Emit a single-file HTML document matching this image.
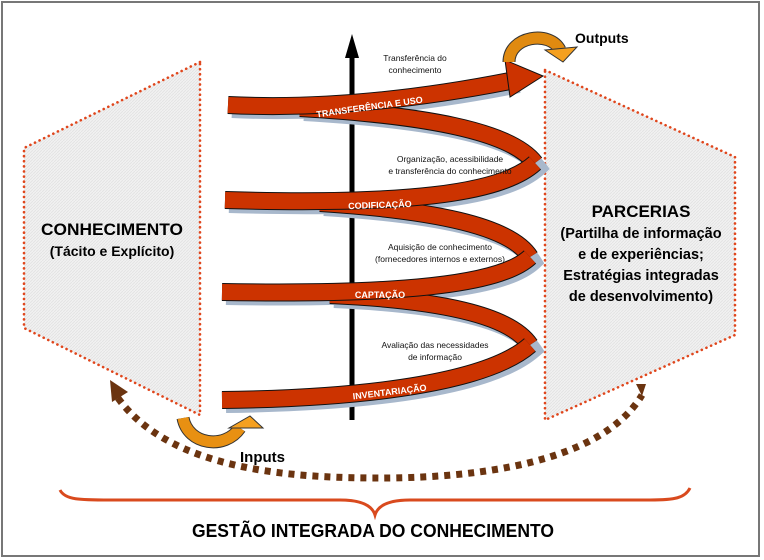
<!DOCTYPE html>
<html><head><meta charset="utf-8"><style>
html,body{margin:0;padding:0;background:#fff;}
svg{display:block;font-family:"Liberation Sans",Arial,sans-serif;}
</style></head><body>
<svg width="764" height="560" viewBox="0 0 764 560" xmlns="http://www.w3.org/2000/svg">
<defs>
<pattern id="h" width="3" height="3" patternUnits="userSpaceOnUse"><rect width="3" height="3" fill="#f1f1f1"/><path d="M0,3 L3,0" stroke="#e2e2e2" stroke-width="0.8"/></pattern>
</defs>
<rect x="2" y="2" width="757" height="554" fill="#fff" stroke="#777" stroke-width="2"/>
<polygon points="200,62 24,148 24,328 200,415" fill="url(#h)" stroke="#e0461c" stroke-width="2.6" stroke-dasharray="0.1 5" stroke-linecap="round"/>
<polygon points="545,70 735,157 735,335 545,420" fill="url(#h)" stroke="#e0461c" stroke-width="2.6" stroke-dasharray="0.1 5" stroke-linecap="round"/>
<text x="112" y="235" font-size="17" font-weight="bold" text-anchor="middle" textLength="142" lengthAdjust="spacingAndGlyphs">CONHECIMENTO</text>
<text x="112" y="256" font-size="14" font-weight="bold" text-anchor="middle">(Tácito e Explícito)</text>
<g font-weight="bold" text-anchor="middle">
<text x="641" y="217" font-size="17">PARCERIAS</text>
<text x="641" y="238" font-size="14.5">(Partilha de informação</text>
<text x="641" y="259" font-size="14.5">e de experiências;</text>
<text x="641" y="280" font-size="14.5">Estratégias integradas</text>
<text x="641" y="301" font-size="14.5">de desenvolvimento)</text>
</g>
<line x1="352" y1="55" x2="352" y2="420" stroke="#000" stroke-width="5"/>
<polygon points="352,34 345,58 359,58" fill="#000"/>
<g fill="none" stroke="#a8b8cc" stroke-width="16" transform="translate(4,5)">
<path d="M228,105 C330,110 430,97 515,80"/>
<path d="M300,108 C420,115 510,130 535,163 C500,195 400,205 225,200"/>
<path d="M320,203 C430,210 510,225 530,257 C500,285 400,295 222,292"/>
<path d="M330,295 C440,300 510,315 530,345 C490,380 380,398 222,400"/>
</g>
<g fill="none" stroke-linejoin="round">
<g stroke="#111" stroke-width="18">
<path d="M300,108 C420,115 510,130 535,163"/>
<path d="M320,203 C430,210 510,225 530,257"/>
<path d="M330,295 C440,300 510,315 530,345"/>
</g>
<g stroke="#cc3300" stroke-width="16">
<path d="M300,108 C420,115 510,130 535,163"/>
<path d="M320,203 C430,210 510,225 530,257"/>
<path d="M330,295 C440,300 510,315 530,345"/>
</g>
<g stroke="#111" stroke-width="18">
<path d="M228,105 C330,110 430,97 515,80"/>
<path d="M535,163 C500,195 400,205 225,200"/>
<path d="M530,257 C500,285 400,295 222,292"/>
<path d="M530,345 C490,380 380,398 222,400"/>
</g>
<g stroke="#cc3300" stroke-width="16">
<path d="M228,105 C330,110 430,97 515,80"/>
<path d="M535,163 C500,195 400,205 225,200"/>
<path d="M530,257 C500,285 400,295 222,292"/>
<path d="M530,345 C490,380 380,398 222,400"/>
</g>
</g>
<polygon points="505,60 543,76 510,97" fill="#cc3300" stroke="#111" stroke-width="1"/>
<g fill="#fff" font-size="9" font-weight="bold" text-anchor="middle">
<text x="370" y="110" transform="rotate(-8 370 110)">TRANSFERÊNCIA E USO</text>
<text x="380" y="208" transform="rotate(-2 380 208)">CODIFICAÇÃO</text>
<text x="380" y="298">CAPTAÇÃO</text>
<text x="390" y="395" transform="rotate(-7 390 395)">INVENTARIAÇÃO</text>
</g>
<g font-size="8.5" text-anchor="middle" fill="#111">
<text x="415" y="61">Transferência do</text>
<text x="415" y="73">conhecimento</text>
<text x="450" y="162">Organização, acessibilidade</text>
<text x="450" y="174">e transferência do conhecimento</text>
<text x="440" y="250">Aquisição de conhecimento</text>
<text x="440" y="262">(fornecedores internos e externos)</text>
<text x="435" y="348">Avaliação das necessidades</text>
<text x="435" y="360">de informação</text>
</g>
<!-- outputs arrow -->
<path d="M509,62 C509,36 550,30 560,50" fill="none" stroke="#333" stroke-width="13"/>
<path d="M509,62 C509,36 550,30 560,50" fill="none" stroke="#e08a10" stroke-width="11"/>
<polygon points="545,50 577,47 563,62" fill="#f5a020" stroke="#333" stroke-width="1"/>
<text x="575" y="43" font-size="14" font-weight="bold">Outputs</text>
<!-- inputs arrow -->
<path d="M183,418 C188,445 225,450 240,428" fill="none" stroke="#333" stroke-width="13"/>
<path d="M183,418 C188,445 225,450 240,428" fill="none" stroke="#e89012" stroke-width="11"/>
<polygon points="250,416 263,428 229,428" fill="#f5a020" stroke="#333" stroke-width="1"/>
<text x="240" y="462" font-size="15" font-weight="bold">Inputs</text>
<!-- dotted arc -->
<path d="M118,398 C170,470 290,478 380,478 C470,478 600,465 642,395" fill="none" stroke="#6b3410" stroke-width="7" stroke-dasharray="6 6"/>
<polygon points="110,380 128,392 112,402" fill="#6b3410"/>
<polygon points="636,384 646,384 642,396" fill="#6b3410"/>
<path d="M60,490 C65,500 80,500 110,500 L340,500 C360,500 372,505 375,515 C378,505 390,500 410,500 L650,500 C675,500 685,498 690,488" fill="none" stroke="#d94a1e" stroke-width="3"/>
<text x="373" y="537" font-size="18" font-weight="bold" text-anchor="middle" textLength="362" lengthAdjust="spacingAndGlyphs">GESTÃO INTEGRADA DO CONHECIMENTO</text>
</svg>
</body></html>
